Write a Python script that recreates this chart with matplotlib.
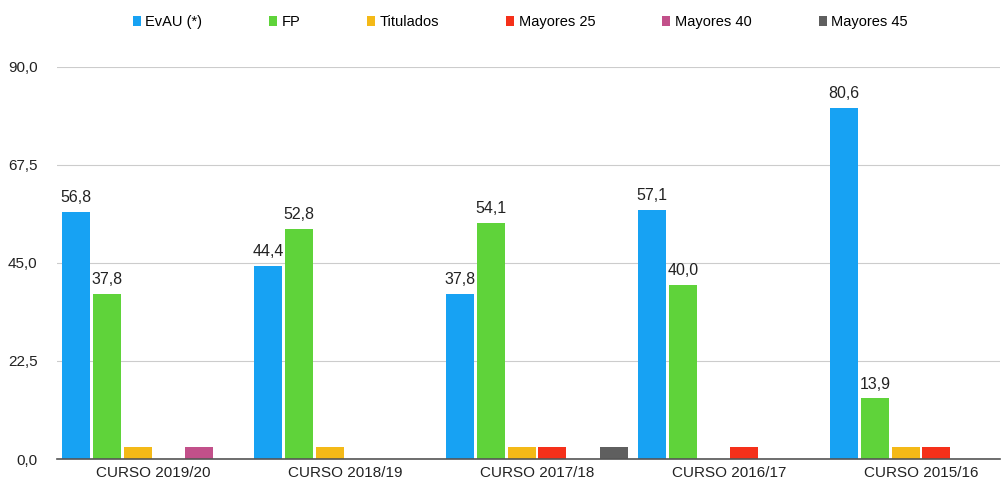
import matplotlib.pyplot as plt
import numpy as np

plt.rcParams['font.family'] = ['Liberation Sans', 'DejaVu Sans']

cursos = ['CURSO 2019/20', 'CURSO 2018/19', 'CURSO 2017/18', 'CURSO 2016/17', 'CURSO 2015/16']
series = ['EvAU (*)', 'FP', 'Titulados', 'Mayores 25', 'Mayores 40', 'Mayores 45']
evau = [56.8, 44.4, 37.8, 57.1, 80.6]
fp = [37.8, 52.8, 54.1, 40.0, 13.9]
titulados = [2.7, 2.7, 2.7, 0, 2.7]
mayores25 = [0, 0, 2.7, 2.7, 2.7]
mayores40 = [2.7, 0, 0, 0, 0]
mayores45 = [0, 0, 2.7, 0, 0]
colores = ['#17a2f3', '#5fd33a', '#f4b917', '#f5301a', '#c2508a', '#5f5f5f']

valores = [evau, fp, titulados, mayores25, mayores40, mayores45]

fig = plt.figure(figsize=(10.04, 4.86), dpi=100)
ax = fig.add_axes([57 / 1004, 1 - 459 / 486, 943 / 1004, 392 / 486])

x = np.arange(len(cursos))
w = 0.16
for i, (nombre, vals, c) in enumerate(zip(series, valores, colores)):
    pos = x + (i - 2.5) * w
    bars = ax.bar(pos, vals, width=w * 0.92, color=c, label=nombre, zorder=3)
    # etiquetas solo para EvAU y FP
    if i < 2:
        for b, v in zip(bars, vals):
            ax.annotate(f'{v:.1f}'.replace('.', ','), (b.get_x() + b.get_width() / 2, v),
                        xytext=(0, 5), textcoords='offset points',
                        ha='center', va='bottom', fontsize=11.5, color='#222222')

ax.set_ylim(0, 90)
ax.set_xlim(-0.5, -0.5 + 943 / 192)
ax.set_yticks([0, 22.5, 45, 67.5, 90])
ax.set_yticklabels(['0,0', '22,5', '45,0', '67,5', '90,0'])
ax.set_xticks(x)
ax.set_xticklabels(cursos)
ax.tick_params(axis='both', length=0, labelsize=11, colors='#222222')
ax.tick_params(axis='y', pad=14)
ax.tick_params(axis='x', pad=5)
ax.grid(axis='y', color='#cccccc', linewidth=0.8, zorder=0)
for s in ['top', 'right', 'left']:
    ax.spines[s].set_visible(False)
ax.spines['bottom'].set_color('#555555')
ax.spines['bottom'].set_linewidth(1.2)
ax.spines['bottom'].set_zorder(4)

fig.legend(loc='center', bbox_to_anchor=(0.518, 1 - 22 / 486), ncol=6, frameon=False,
           fontsize=10.5, handlelength=0.55, handleheight=0.7, handletextpad=0.3,
           columnspacing=4.6)

fig.savefig('out.png', dpi=100)
